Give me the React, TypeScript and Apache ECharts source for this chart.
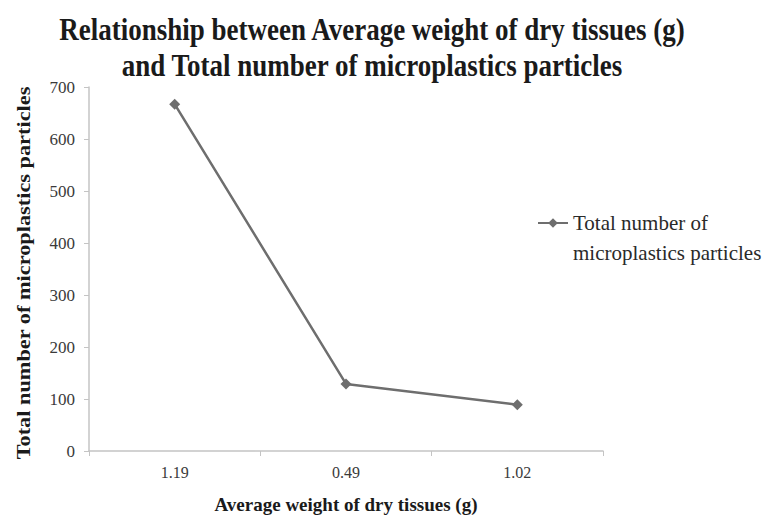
import React, { useEffect, useRef } from "react";
import * as echarts from "echarts";

const categories = ["1.19", "0.49", "1.02"];
const particles = [667, 129, 89];
const yTicks = { min: 0, max: 700, interval: 100 };
const seriesName = "Total number of microplastics particles";
const titleLines = [
  "Relationship between Average weight of dry tissues (g)",
  "and Total number of microplastics particles",
];
const legendLines = ["Total number of", "microplastics particles"];
const xName = "Average weight of dry tissues (g)";
const yName = "Total number of microplastics particles";

const SERIF = "'Liberation Serif', 'Times New Roman', serif";

export default function App() {
  const ref = useRef<HTMLDivElement>(null);
  useEffect(() => {
    if (!ref.current) return;
    const chart = echarts.init(ref.current, undefined, { renderer: "svg" });
    chart.setOption({
      animation: false,
      backgroundColor: "#ffffff",
      title: { show: false },
      graphic: [
        {
          type: "text",
          x: 372,
          y: 29,
          scaleY: 1.17,
          style: {
            text: titleLines[0],
            fontFamily: SERIF,
            fontWeight: "bold",
            fontSize: 27,
            fill: "#1a1a1a",
            textAlign: "center",
            textVerticalAlign: "middle",
          },
        },
        {
          type: "text",
          x: 372,
          y: 65,
          scaleY: 1.17,
          style: {
            text: titleLines[1],
            fontFamily: SERIF,
            fontWeight: "bold",
            fontSize: 27,
            fill: "#1a1a1a",
            textAlign: "center",
            textVerticalAlign: "middle",
          },
        },
        {
          type: "text",
          x: 24,
          y: 273,
          rotation: Math.PI / 2,
          scaleX: 1.24,
          style: {
            text: yName,
            fontFamily: SERIF,
            fontWeight: "bold",
            fontSize: 18,
            fill: "#1a1a1a",
            textAlign: "center",
            textVerticalAlign: "middle",
          },
        },
      ],
      grid: { left: 89, right: 166, top: 87, bottom: 63, containLabel: false },
      legend: {
        data: [seriesName],
        left: 537,
        top: 178,
        padding: 0,
        orient: "vertical",
        itemWidth: 30,
        itemHeight: 12,
        formatter: () => " \n" + legendLines.join("\n"),
        textStyle: {
          fontFamily: SERIF,
          fontSize: 21,
          lineHeight: 30,
          color: "#2a2a2a",
        },
      },
      xAxis: {
        type: "category",
        data: categories,
        boundaryGap: true,
        name: xName,
        nameLocation: "middle",
        nameGap: 44,
        nameTextStyle: {
          fontFamily: SERIF,
          fontWeight: "bold",
          fontSize: 19,
          color: "#1a1a1a",
        },
        axisLine: { lineStyle: { color: "#c4c4c4", width: 1.5 } },
        axisTick: { show: true, length: 5, lineStyle: { color: "#c4c4c4" } },
        axisLabel: {
          fontFamily: SERIF,
          fontSize: 16,
          color: "#3a3a3a",
          margin: 13,
        },
      },
      yAxis: {
        type: "value",
        min: yTicks.min,
        max: yTicks.max,
        interval: yTicks.interval,
        axisLine: { show: true, lineStyle: { color: "#c4c4c4", width: 1.5 } },
        axisTick: { show: true, length: 5, lineStyle: { color: "#c4c4c4" } },
        splitLine: { show: false },
        axisLabel: {
          fontFamily: SERIF,
          fontSize: 17,
          color: "#3a3a3a",
          margin: 14,
        },
      },
      series: [
        {
          name: seriesName,
          type: "line",
          data: particles,
          symbol: "diamond",
          symbolSize: 11,
          itemStyle: { color: "#6e6e6e" },
          lineStyle: { color: "#6e6e6e", width: 2.5 },
        },
      ],
    });
    return () => chart.dispose();
  }, []);
  return (
    <div
      ref={ref}
      style={{ position: "fixed", left: 0, top: 0, width: 769, height: 519 }}
    />
  );
}
